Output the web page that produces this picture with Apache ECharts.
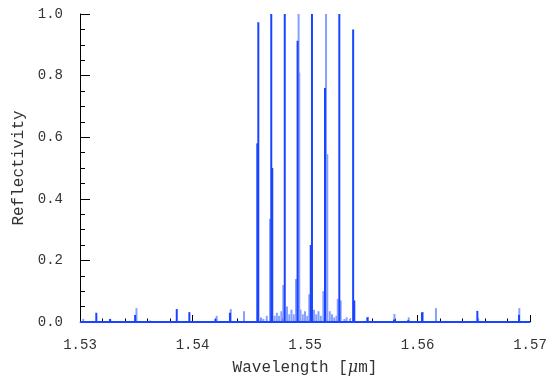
<!DOCTYPE html>
<html>
<head>
<meta charset="utf-8">
<script src="https://cdn.jsdelivr.net/npm/echarts@6/dist/echarts.min.js"></script>
<style>html,body{margin:0;padding:0;background:#fff}#c{width:552px;height:381px}</style>
</head>
<body>
<div id="c"></div>
<script>
// Dark blue spectrum: [wavelength (um), reflectivity]
const darkSpikes = [
  [1.53145, 0.030], [1.53267, 0.010], [1.53490, 0.023], [1.53860, 0.042],
  [1.53972, 0.032], [1.54204, 0.010], [1.54333, 0.030],
  [1.54576, 0.580], [1.54585, 0.973], [1.54700, 1.000], [1.54709, 0.500],
  [1.54820, 1.000], [1.54934, 0.913], [1.55051, 0.250], [1.55062, 1.000],
  [1.55178, 0.760], [1.55305, 1.000], [1.55428, 0.950], [1.55438, 0.070],
  [1.55554, 0.015], [1.55791, 0.008], [1.55918, 0.006], [1.56040, 0.032],
  [1.56532, 0.036], [1.56902, 0.023]
];
// Light blue spectrum: [wavelength (um), reflectivity]
const lightSpikes = [
  [1.53029, 0.010], [1.53270, 0.008], [1.53502, 0.045], [1.53622, 0.005],
  [1.54215, 0.020], [1.54340, 0.042], [1.54458, 0.035],
  [1.54610, 0.015], [1.54630, 0.010], [1.54660, 0.020], [1.54689, 0.335],
  [1.54730, 0.020], [1.54750, 0.030], [1.54770, 0.020], [1.54790, 0.035],
  [1.54807, 0.120], [1.54840, 0.050], [1.54860, 0.025], [1.54880, 0.040],
  [1.54900, 0.025], [1.54920, 0.140], [1.54943, 1.000], [1.54949, 0.810],
  [1.54960, 0.040], [1.54980, 0.025], [1.55000, 0.035], [1.55020, 0.020],
  [1.55038, 0.090], [1.55080, 0.040], [1.55100, 0.025], [1.55120, 0.035],
  [1.55140, 0.020], [1.55163, 0.100], [1.55187, 1.000], [1.55198, 0.545],
  [1.55220, 0.035], [1.55240, 0.025], [1.55260, 0.015], [1.55280, 0.020],
  [1.55291, 0.075], [1.55317, 0.070], [1.55350, 0.010], [1.55370, 0.015],
  [1.55400, 0.010], [1.55560, 0.016], [1.55795, 0.026], [1.55922, 0.015],
  [1.56049, 0.032], [1.56164, 0.045], [1.56540, 0.012], [1.56905, 0.045]
];
const baseline = [[1.53, 0], [1.57, 0]];
const xTicks = { min: 1.53, max: 1.57, step: 0.01 };
const yTicks = { min: 0, max: 1.0, step: 0.2 };

const FONT = 'Liberation Mono';
const DARK = '#1a44ff';
const LIGHT = '#86a0ff';
const TEXT = '#333';

const chart = echarts.init(document.getElementById('c'), null, { renderer: 'canvas' });
chart.setOption({
  animation: false,
  backgroundColor: '#ffffff',
  grid: { left: 80, right: 22, top: 14, bottom: 57 },
  xAxis: {
    type: 'value', min: xTicks.min, max: xTicks.max, interval: xTicks.step,
    name: 'Wavelength [{i|μ}m]', nameLocation: 'middle', nameGap: 38,
    nameTextStyle: { fontFamily: FONT, fontSize: 16, color: TEXT,
      rich: { i: { fontFamily: 'DejaVu Serif', fontStyle: 'italic', fontSize: 16, color: TEXT } } },
    axisLine: { show: true, lineStyle: { color: '#777', width: 1 } },
    axisTick: { show: true, inside: true, length: 7, lineStyle: { color: '#000' } },
    minorTick: { show: true, splitNumber: 5, length: 3.5, lineStyle: { color: '#000' } },
    splitLine: { show: false },
    axisLabel: { fontFamily: FONT, fontSize: 14, color: TEXT, margin: 16,
      formatter: v => v.toFixed(2) }
  },
  yAxis: {
    type: 'value', min: yTicks.min, max: yTicks.max, interval: yTicks.step,
    name: 'Reflectivity', nameLocation: 'middle', nameGap: 50, nameRotate: 90,
    nameTextStyle: { fontFamily: FONT, fontSize: 16, color: TEXT },
    axisLine: { show: true, lineStyle: { color: '#000', width: 1 } },
    axisTick: { show: true, inside: true, length: 10, lineStyle: { color: '#000' } },
    minorTick: { show: true, splitNumber: 4, length: 5, lineStyle: { color: '#000' } },
    splitLine: { show: false },
    axisLabel: { fontFamily: FONT, fontSize: 14, color: TEXT, margin: 17,
      formatter: v => v.toFixed(1) }
  },
  series: [
    { type: 'line', data: baseline, symbol: 'none', silent: true,
      lineStyle: { color: DARK, width: 2 }, z: 3 },
    { type: 'bar', data: lightSpikes, barWidth: 2, barGap: '-100%',
      itemStyle: { color: LIGHT }, z: 2 },
    { type: 'bar', data: darkSpikes, barWidth: 2, barGap: '-100%',
      itemStyle: { color: DARK }, z: 2 }
  ]
});
</script>
</body>
</html>
